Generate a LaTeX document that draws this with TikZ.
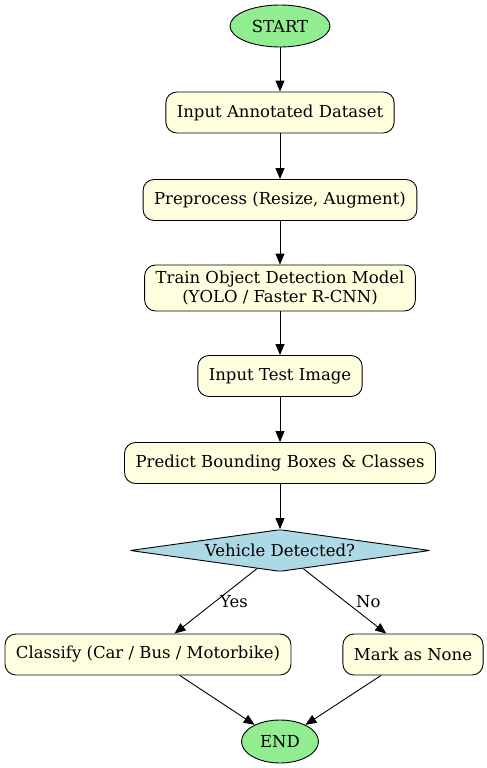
\documentclass[tikz,border=0pt]{standalone}
\usepackage{fontspec}
\setmainfont{DejaVu Serif}
\usetikzlibrary{shapes.geometric,arrows.meta}
\definecolor{termgreen}{HTML}{90EE90}
\definecolor{stepyellow}{HTML}{FFFFE0}
\definecolor{askblue}{HTML}{ADD8E6}
\begin{document}
\begin{tikzpicture}[x=1pt,y=-1pt,line width=0.9pt,
    font=\fontsize{16.5}{19.5}\selectfont,
    term/.style={ellipse,draw,fill=termgreen,inner sep=0pt},
    stepbox/.style={rectangle,rounded corners=11pt,draw,fill=stepyellow,
        inner xsep=11pt,inner ysep=2pt,minimum height=41pt,align=center},
    ask/.style={diamond,aspect=7.1,draw,fill=askblue,rounded corners=2pt,inner sep=0pt,
        minimum width=300pt,minimum height=42pt},
    flow/.style={-{Triangle[length=11pt,width=9pt]}},
    lbl/.style={anchor=west,inner sep=1pt}]
    \useasboundingbox (0,0) rectangle (487,768);
   		\node at (280,26) [term,minimum width=100pt,minimum height=42pt] (start) {START};
       	\node at (280,112.5) [stepbox] (load) {Input Annotated Dataset};
        \node at (280,200) [stepbox] (prep) {Preprocess (Resize, Augment)};
        \node at (280,288) [stepbox,minimum height=46pt] (train) {Train Object Detection Model\\(YOLO / Faster R-CNN)};
        \node at (280,376) [stepbox] (test) {Input Test Image};
        \node at (280,463) [stepbox] (pred) {Predict Bounding Boxes \& Classes};
        \node at (280,550.5) [ask] (found) {Vehicle Detected?};
        \node at (148,654.5) [stepbox] (cls) {Classify (Car / Bus / Motorbike)};
        \node at (413,654.5) [stepbox] (none) {Mark as None};
        \node at (280,741.5) [term,minimum width=77pt,minimum height=43pt] (stop) {END};
        \draw[flow] (start) -- (load);
        \draw[flow] (load) -- (prep);
        \draw[flow] (prep) -- (train);
        \draw[flow] (train) -- (test);
        \draw[flow] (test) -- (pred);
        \draw[flow] (pred) -- (found);
        \draw[flow] (found) -- node[lbl,xshift=3pt] {Yes} (cls);
        \draw[flow] (found) -- node[lbl,xshift=10pt] {No} (none);
        \draw[flow] (cls) -- (stop);
        \draw[flow] (none) -- (stop);
    \end{tikzpicture}
\end{document}
